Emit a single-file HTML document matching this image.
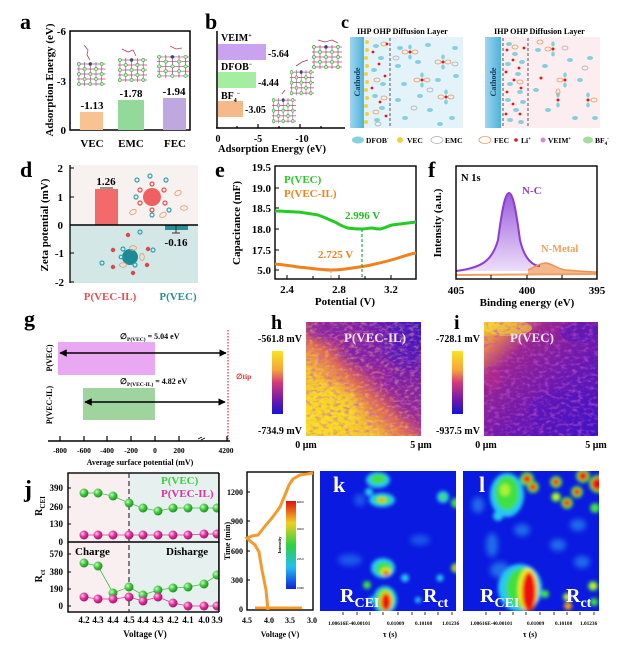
<!DOCTYPE html>
<html><head><meta charset="utf-8"><style>
html,body{margin:0;padding:0;background:#fff;}
svg{display:block;}
text{font-family:"Liberation Serif",serif;font-weight:bold;}
</style></head><body>
<svg width="639" height="661" viewBox="0 0 639 661" xmlns="http://www.w3.org/2000/svg">
<defs>
 <g id="lat">
  <g stroke="#c0406a" stroke-width="0.7">
   <line x1="0" y1="2" x2="30" y2="2"/><line x1="0" y1="7" x2="30" y2="7"/><line x1="0" y1="12" x2="30" y2="12"/><line x1="0" y1="17" x2="30" y2="17"/><line x1="0" y1="22" x2="30" y2="22"/>
  </g>
  <g stroke="#7a5a9a" stroke-width="0.7">
   <line x1="2" y1="0" x2="2" y2="24"/><line x1="8" y1="0" x2="8" y2="24"/><line x1="14" y1="0" x2="14" y2="24"/><line x1="20" y1="0" x2="20" y2="24"/><line x1="26" y1="0" x2="26" y2="24"/>
  </g>
  <g fill="#c8eec0" stroke="#3aa040" stroke-width="0.6">
   <circle cx="2" cy="2" r="1.6"/><circle cx="14" cy="2" r="1.6"/><circle cx="26" cy="2" r="1.6"/>
   <circle cx="8" cy="7" r="1.6"/><circle cx="20" cy="7" r="1.6"/>
   <circle cx="2" cy="12" r="1.6"/><circle cx="14" cy="12" r="1.6"/><circle cx="26" cy="12" r="1.6"/>
   <circle cx="8" cy="17" r="1.6"/><circle cx="20" cy="17" r="1.6"/>
   <circle cx="2" cy="22" r="1.6"/><circle cx="14" cy="22" r="1.6"/><circle cx="26" cy="22" r="1.6"/>
  </g>
  <circle cx="14" cy="2" r="1.5" fill="#5030a0"/>
 </g>
 <linearGradient id="cath" x1="0" x2="1" y1="0" y2="0"><stop offset="0" stop-color="#9fd6ee"/><stop offset="1" stop-color="#4fb2dc"/></linearGradient>
 <linearGradient id="purp" x1="0" x2="0" y1="0" y2="1"><stop offset="0" stop-color="#8a3ed6"/><stop offset="1" stop-color="#ead8f8"/></linearGradient>
 <linearGradient id="cbar" x1="0" x2="0" y1="0" y2="1"><stop offset="0" stop-color="#f6e51e"/><stop offset="0.3" stop-color="#f6a43a"/><stop offset="0.5" stop-color="#d23a78"/><stop offset="0.75" stop-color="#7a1aa6"/><stop offset="1" stop-color="#1414d0"/></linearGradient>
 <linearGradient id="rbow" x1="0" x2="0" y1="0" y2="1"><stop offset="0" stop-color="#e01010"/><stop offset="0.25" stop-color="#f0d020"/><stop offset="0.5" stop-color="#30d040"/><stop offset="0.75" stop-color="#20c0f0"/><stop offset="1" stop-color="#1020d8"/></linearGradient>
 <linearGradient id="hgrad" x1="0" y1="1" x2="1" y2="0"><stop offset="0" stop-color="#f8e020"/><stop offset="0.3" stop-color="#f6c030"/><stop offset="0.45" stop-color="#e06a50"/><stop offset="0.56" stop-color="#a02890"/><stop offset="0.8" stop-color="#6a1ab0"/><stop offset="1" stop-color="#3010c0"/></linearGradient>
 <linearGradient id="igrad" x1="0" y1="0" x2="1" y2="1"><stop offset="0" stop-color="#f8d830"/><stop offset="0.14" stop-color="#e07850"/><stop offset="0.28" stop-color="#9a2490"/><stop offset="0.6" stop-color="#6a18b2"/><stop offset="1" stop-color="#3a12c8"/></linearGradient>
 <filter id="npurp" x="0" y="0" width="100%" height="100%">
  <feTurbulence type="fractalNoise" baseFrequency="0.18 0.3" numOctaves="2" seed="4"/>
  <feColorMatrix type="matrix" values="0 0 0 0 0.5  0 0 0 0 0.08  0 0 0 0 0.6  2.0 0 0 0 -0.95"/>
 </filter>
 <filter id="nyel" x="0" y="0" width="100%" height="100%">
  <feTurbulence type="fractalNoise" baseFrequency="0.2 0.35" numOctaves="2" seed="9"/>
  <feColorMatrix type="matrix" values="0 0 0 0 0.98  0 0 0 0 0.8  0 0 0 0 0.2  2.2 0 0 0 -1.05"/>
 </filter>
 <filter id="blur"><feGaussianBlur stdDeviation="1.8"/></filter>
 <filter id="blur2"><feGaussianBlur stdDeviation="3"/></filter>
 <filter id="blur3"><feGaussianBlur stdDeviation="5"/></filter>
 <radialGradient id="gball" cx="0.35" cy="0.35" r="0.7"><stop offset="0" stop-color="#c8f8c0"/><stop offset="0.5" stop-color="#40c840"/><stop offset="1" stop-color="#1a8a1a"/></radialGradient>
 <radialGradient id="pball" cx="0.35" cy="0.35" r="0.7"><stop offset="0" stop-color="#ffc8e8"/><stop offset="0.5" stop-color="#e0309a"/><stop offset="1" stop-color="#a01068"/></radialGradient>
 <marker id="ar" viewBox="0 0 10 10" refX="9" refY="5" markerWidth="5" markerHeight="5" orient="auto-start-reverse"><path d="M0,0 L10,5 L0,10 z" fill="#000"/></marker>
</defs>

<!-- ===== a ===== -->
<text x="20" y="29" font-size="22">a</text>
<text transform="translate(53,80) rotate(-90)" font-size="11" text-anchor="middle">Adsorption Energy (eV)</text>
<g font-size="11" text-anchor="end"><text x="66" y="35">-6</text><text x="66" y="85">-3</text><text x="66" y="134">0</text></g>
<rect x="70" y="31" width="120" height="99" fill="none" stroke="#000" stroke-width="1.5"/>
<rect x="80" y="112" width="23" height="18" fill="#f9c292"/>
<rect x="118" y="100" width="26" height="30" fill="#93d99a"/>
<rect x="163" y="98" width="23" height="32" fill="#bfa7df"/>
<g font-size="11" text-anchor="middle"><text x="92" y="109">-1.13</text><text x="131" y="97">-1.78</text><text x="174" y="95">-1.94</text></g>
<use href="#lat" transform="translate(77,62) scale(0.95,1)"/>
<use href="#lat" transform="translate(118,58) scale(0.97,1)"/>
<use href="#lat" transform="translate(157,55) scale(1.1,0.95)"/>
<g stroke="#b04060" stroke-width="0.8" fill="none"><path d="M84,45 L88,50 L87,55 L90,60"/><path d="M122,49 L128,52 L133,50 L136,56"/><path d="M170,46 L176,49 L182,48"/></g>
<g font-size="11" text-anchor="middle"><text x="92" y="147">VEC</text><text x="131" y="147">EMC</text><text x="175" y="147">FEC</text></g>

<!-- ===== b ===== -->
<text x="205" y="29" font-size="22">b</text>
<line x1="217" y1="31" x2="217" y2="128" stroke="#000" stroke-width="1.5"/>
<line x1="216" y1="128" x2="345" y2="128" stroke="#000" stroke-width="1.5"/>
<g stroke="#000" stroke-width="1.2"><line x1="258" y1="128" x2="258" y2="124"/><line x1="300" y1="128" x2="300" y2="124"/><line x1="237" y1="128" x2="237" y2="126"/><line x1="279" y1="128" x2="279" y2="126"/><line x1="321" y1="128" x2="321" y2="126"/></g>
<rect x="218" y="44" width="48" height="16" fill="#c9a3f0"/>
<rect x="218" y="72" width="38" height="16" fill="#a6ee9f"/>
<rect x="218" y="101" width="25" height="16" fill="#f5b98a"/>
<g font-size="10"><text x="221" y="41">VEIM<tspan dy="-4" font-size="6">+</tspan></text><text x="221" y="70">DFOB<tspan dy="-4" font-size="6">−</tspan></text><text x="221" y="99">BF<tspan dy="3" font-size="6">4</tspan><tspan dy="-7" font-size="6">−</tspan></text></g>
<g font-size="10"><text x="268" y="57">-5.64</text><text x="258" y="86">-4.44</text><text x="245" y="113">-3.05</text></g>
<use href="#lat" transform="translate(312,45)"/>
<use href="#lat" transform="translate(290,70) scale(0.8,1.05)"/>
<use href="#lat" transform="translate(272,98) scale(0.8,1.05)"/>
<g stroke="#a04060" stroke-width="0.8" fill="none"><path d="M318,40 L325,42 L332,40 L338,43"/><path d="M296,66 L302,62 L308,60"/><path d="M282,94 L285,90"/></g>
<g font-size="10" text-anchor="middle"><text x="218" y="142">0</text><text x="258" y="142">-5</text><text x="302" y="142">-10</text></g>
<text x="272" y="152" font-size="10.5" text-anchor="middle">Adsorption Energy (eV)</text>

<!-- ===== c ===== -->
<text x="341" y="28" font-size="18">c</text>
<g font-size="8.2"><text x="357" y="34">IHP OHP Diffusion Layer</text><text x="494" y="34">IHP OHP Diffusion Layer</text></g>
<rect x="350" y="37" width="113" height="91" fill="#e4f3fa"/>
<rect x="350" y="37" width="14" height="91" fill="url(#cath)"/>
<text transform="translate(360,82) rotate(-90)" font-size="8" text-anchor="middle" fill="#1a3a5a">Cathode</text>
<rect x="485" y="37" width="115" height="91" fill="#fcedf0"/>
<rect x="485" y="37" width="16" height="91" fill="url(#cath)"/>
<text transform="translate(496,82) rotate(-90)" font-size="8" text-anchor="middle" fill="#1a3a5a">Cathode</text>
<g fill="#f2d040"><circle cx="367" cy="42" r="2"/><circle cx="367" cy="50" r="2"/><circle cx="366" cy="58" r="2"/><circle cx="367" cy="66" r="2"/><circle cx="366" cy="74" r="2"/><circle cx="367" cy="82" r="2"/><circle cx="366" cy="90" r="2"/><circle cx="367" cy="98" r="2"/><circle cx="366" cy="106" r="2"/><circle cx="367" cy="114" r="2"/><circle cx="366" cy="122" r="2"/></g>
<g stroke="#555" stroke-width="1" stroke-dasharray="3,2"><line x1="390" y1="38" x2="390" y2="128"/><line x1="503" y1="38" x2="503" y2="128"/><line x1="528" y1="38" x2="528" y2="128"/></g>
<g fill="#86d0dc">
 <ellipse cx="376" cy="46" rx="3" ry="2"/><ellipse cx="381" cy="58" rx="3" ry="2"/><ellipse cx="374" cy="70" rx="3" ry="2"/><ellipse cx="383" cy="84" rx="3" ry="2"/><ellipse cx="375" cy="96" rx="3" ry="2"/><ellipse cx="382" cy="108" rx="3" ry="2"/><ellipse cx="377" cy="120" rx="3" ry="2"/>
 <ellipse cx="400" cy="48" rx="3" ry="2"/><ellipse cx="428" cy="45" rx="3" ry="2"/><ellipse cx="455" cy="48" rx="3" ry="2"/><ellipse cx="398" cy="66" rx="3" ry="2"/><ellipse cx="418" cy="62" rx="3" ry="2"/><ellipse cx="404" cy="84" rx="3" ry="2"/><ellipse cx="438" cy="80" rx="3" ry="2"/><ellipse cx="456" cy="76" rx="3" ry="2"/><ellipse cx="398" cy="100" rx="3" ry="2"/><ellipse cx="420" cy="96" rx="3" ry="2"/><ellipse cx="430" cy="110" rx="3" ry="2"/><ellipse cx="405" cy="118" rx="3" ry="2"/><ellipse cx="452" cy="118" rx="3" ry="2"/><ellipse cx="440" cy="124" rx="3" ry="2"/>
 <ellipse cx="410" cy="47" rx="1.8" ry="2.5"/><ellipse cx="410" cy="57" rx="1.8" ry="2.5"/><ellipse cx="443" cy="57" rx="1.8" ry="2.5"/><ellipse cx="443" cy="67" rx="1.8" ry="2.5"/><ellipse cx="422" cy="75" rx="1.8" ry="2.5"/><ellipse cx="422" cy="85" rx="1.8" ry="2.5"/><ellipse cx="446" cy="92" rx="1.8" ry="2.5"/><ellipse cx="446" cy="102" rx="1.8" ry="2.5"/>
 <ellipse cx="509" cy="44" rx="3" ry="2"/><ellipse cx="515" cy="54" rx="3" ry="2"/><ellipse cx="508" cy="64" rx="3" ry="2"/><ellipse cx="518" cy="74" rx="3" ry="2"/><ellipse cx="510" cy="84" rx="3" ry="2"/><ellipse cx="520" cy="92" rx="3" ry="2"/><ellipse cx="508" cy="100" rx="3" ry="2"/><ellipse cx="516" cy="110" rx="3" ry="2"/><ellipse cx="510" cy="120" rx="3" ry="2"/><ellipse cx="522" cy="62" rx="3" ry="2"/><ellipse cx="523" cy="102" rx="3" ry="2"/><ellipse cx="521" cy="122" rx="3" ry="2"/>
 <ellipse cx="538" cy="50" rx="3" ry="2"/><ellipse cx="545" cy="66" rx="3" ry="2"/><ellipse cx="570" cy="60" rx="3" ry="2"/><ellipse cx="536" cy="90" rx="3" ry="2"/><ellipse cx="580" cy="80" rx="3" ry="2"/><ellipse cx="548" cy="110" rx="3" ry="2"/><ellipse cx="575" cy="118" rx="3" ry="2"/><ellipse cx="590" cy="58" rx="3" ry="2"/><ellipse cx="595" cy="118" rx="3" ry="2"/>
 <ellipse cx="553" cy="44" rx="1.8" ry="2.5"/><ellipse cx="553" cy="54" rx="1.8" ry="2.5"/><ellipse cx="565" cy="75" rx="1.8" ry="2.5"/><ellipse cx="565" cy="85" rx="1.8" ry="2.5"/><ellipse cx="588" cy="95" rx="1.8" ry="2.5"/><ellipse cx="588" cy="105" rx="1.8" ry="2.5"/><ellipse cx="558" cy="95" rx="1.8" ry="2.5"/><ellipse cx="558" cy="105" rx="1.8" ry="2.5"/>
</g>
<g fill="none" stroke="#e89a60" stroke-width="0.8">
 <ellipse cx="384" cy="44" rx="3" ry="2"/><ellipse cx="377" cy="80" rx="3" ry="2"/><ellipse cx="384" cy="98" rx="3" ry="2"/><ellipse cx="376" cy="112" rx="3" ry="2"/>
 <ellipse cx="405" cy="52" rx="3" ry="2"/><ellipse cx="415" cy="52" rx="3" ry="2"/><ellipse cx="438" cy="62" rx="3" ry="2"/><ellipse cx="448" cy="62" rx="3" ry="2"/><ellipse cx="417" cy="80" rx="3" ry="2"/><ellipse cx="427" cy="80" rx="3" ry="2"/><ellipse cx="441" cy="97" rx="3" ry="2"/><ellipse cx="451" cy="97" rx="3" ry="2"/>
 <ellipse cx="548" cy="49" rx="3" ry="2"/><ellipse cx="560" cy="80" rx="3" ry="2"/><ellipse cx="558" cy="92" rx="2" ry="3"/><ellipse cx="594" cy="100" rx="3" ry="2"/><ellipse cx="540" cy="42" rx="3" ry="2"/><ellipse cx="515" cy="47" rx="3" ry="2"/><ellipse cx="520" cy="82" rx="3" ry="2"/>
</g>
<g fill="none" stroke="#aaa" stroke-width="0.7"><ellipse cx="396" cy="58" rx="3" ry="2"/><ellipse cx="430" cy="90" rx="3" ry="2"/><ellipse cx="414" cy="108" rx="3" ry="2"/><ellipse cx="378" cy="124" rx="3" ry="2"/><ellipse cx="455" cy="64" rx="3" ry="2"/><ellipse cx="565" cy="48" rx="3" ry="2"/><ellipse cx="585" cy="68" rx="3" ry="2"/></g>
<g fill="#e01818">
 <circle cx="373" cy="52" r="1.4"/><circle cx="379" cy="64" r="1.4"/><circle cx="385" cy="76" r="1.4"/><circle cx="372" cy="88" r="1.4"/><circle cx="380" cy="102" r="1.4"/><circle cx="386" cy="116" r="1.4"/><circle cx="387" cy="44" r="1.4"/>
 <circle cx="410" cy="52" r="1.5"/><circle cx="443" cy="62" r="1.5"/><circle cx="422" cy="80" r="1.5"/><circle cx="446" cy="97" r="1.5"/>
 <circle cx="507" cy="50" r="1.4"/><circle cx="513" cy="60" r="1.4"/><circle cx="506" cy="72" r="1.4"/><circle cx="514" cy="80" r="1.4"/><circle cx="507" cy="92" r="1.4"/><circle cx="513" cy="104" r="1.4"/><circle cx="506" cy="114" r="1.4"/><circle cx="519" cy="68" r="1.4"/><circle cx="521" cy="88" r="1.4"/><circle cx="520" cy="114" r="1.4"/><circle cx="524" cy="48" r="1.4"/>
 <circle cx="553" cy="49" r="1.5"/><circle cx="565" cy="80" r="1.5"/><circle cx="588" cy="100" r="1.5"/><circle cx="558" cy="100" r="1.5"/><circle cx="541" cy="78" r="1.5"/>
</g>
<g font-size="7.5">
 <ellipse cx="358" cy="140" rx="6" ry="3.5" fill="#86d0dc"/><text x="366" y="143">DFOB<tspan dy="-3" font-size="5">-</tspan></text>
 <circle cx="400" cy="140" r="3" fill="#f2d040"/><text x="407" y="143">VEC</text>
 <ellipse cx="437" cy="140" rx="6" ry="3.5" fill="#fff" stroke="#aaa" stroke-width="0.7"/><text x="445" y="143">EMC</text>
 <ellipse cx="485" cy="140" rx="6" ry="3.5" fill="#fff" stroke="#e89a60" stroke-width="0.8"/><text x="494" y="143">FEC</text>
 <circle cx="516" cy="140" r="1.8" fill="#e01818"/><text x="521" y="143">Li<tspan dy="-3" font-size="5">+</tspan></text>
 <circle cx="543" cy="140" r="2.5" fill="#c890c8"/><text x="548" y="143">VEIM<tspan dy="-3" font-size="5">+</tspan></text>
 <ellipse cx="588" cy="140" rx="5" ry="3.5" fill="#a6dca0"/><text x="595" y="143">BF<tspan dy="2" font-size="5">4</tspan><tspan dy="-5" font-size="5">-</tspan></text>
</g>

<!-- ===== d ===== -->
<text x="20" y="177" font-size="22">d</text>
<text transform="translate(48,225) rotate(-90)" font-size="11" text-anchor="middle">Zeta potential (mV)</text>
<rect x="70" y="165" width="128" height="60" fill="#f7f1ef"/>
<rect x="70" y="225" width="128" height="58" fill="#d3e7e7"/>
<line x1="70" y1="165" x2="70" y2="283" stroke="#000" stroke-width="1.3"/>
<g stroke="#000" stroke-width="1"><line x1="70" y1="168" x2="74" y2="168"/><line x1="70" y1="197" x2="74" y2="197"/><line x1="70" y1="253" x2="74" y2="253"/><line x1="70" y1="282" x2="74" y2="282"/></g>
<g font-size="11" text-anchor="end"><text x="63" y="172">2</text><text x="63" y="201">1</text><text x="63" y="229">0</text><text x="64" y="257">-1</text><text x="64" y="286">-2</text></g>
<rect x="95" y="189" width="23" height="36" fill="#f26a6a"/>
<line x1="100" y1="188" x2="113" y2="188" stroke="#333" stroke-width="1"/>
<rect x="165" y="225" width="23" height="5" fill="#2a8f97"/>
<g stroke="#333" stroke-width="1"><line x1="176" y1="225" x2="176" y2="233"/><line x1="172" y1="233" x2="180" y2="233"/></g>
<line x1="70" y1="225" x2="198" y2="225" stroke="#000" stroke-width="1.6"/>
<g font-size="11" text-anchor="middle"><text x="106" y="185">1.26</text><text x="176" y="246">-0.16</text></g>
<g fill="none" stroke-width="1.2">
 <circle cx="152" cy="197" r="9" fill="#f06060" stroke="none"/>
 <g stroke="#e05050"><circle cx="152" cy="184" r="2"/><circle cx="164" cy="190" r="2"/><circle cx="165" cy="203" r="2"/><circle cx="152" cy="210" r="2"/><circle cx="140" cy="203" r="2"/><circle cx="140" cy="190" r="2"/></g>
 <g stroke="#30a0b0"><circle cx="137" cy="180" r="2"/><circle cx="150" cy="176" r="2"/><circle cx="166" cy="180" r="2"/><circle cx="136" cy="197" r="2"/><circle cx="169" cy="210" r="2"/><circle cx="152" cy="215" r="2"/></g>
 <g stroke="#e8a070" stroke-width="0.9"><ellipse cx="178" cy="193" rx="3.5" ry="2.3" transform="rotate(-30 178 193)"/><ellipse cx="133" cy="212" rx="3.5" ry="2.3" transform="rotate(-30 133 212)"/><ellipse cx="163" cy="215" rx="3.5" ry="2.3" transform="rotate(-30 163 215)"/><ellipse cx="184" cy="208" rx="3.5" ry="2.3"/></g>
</g>
<g fill="none" stroke-width="1.2">
 <circle cx="130" cy="257" r="8" fill="#1e8a96" stroke="none"/>
 <g stroke="#30a0b0"><circle cx="123" cy="249" r="2"/><circle cx="140" cy="232" r="2"/><circle cx="153" cy="250" r="2"/><circle cx="102" cy="263" r="2"/><circle cx="135" cy="265" r="2"/><circle cx="121" cy="257" r="1.8"/></g>
 <g fill="#d84a4a" stroke="none"><circle cx="113" cy="250" r="2.2"/><circle cx="128" cy="235" r="2.2"/><circle cx="148" cy="249" r="2.2"/><circle cx="113" cy="267" r="2.2"/><circle cx="147" cy="265" r="2.2"/><circle cx="133" cy="273" r="2.2"/></g>
 <g stroke="#e8a070" stroke-width="0.9"><ellipse cx="142" cy="257" rx="2.3" ry="3.5"/><ellipse cx="123" cy="265" rx="3.5" ry="2.3"/><ellipse cx="133" cy="248" rx="3.5" ry="2.3"/></g>
</g>
<g font-size="11" text-anchor="middle"><text x="110" y="300" fill="#e85050">P(VEC-IL)</text><text x="178" y="300" fill="#2a8f97">P(VEC)</text></g>

<!-- ===== e ===== -->
<text x="215" y="177" font-size="22">e</text>
<text transform="translate(240,223) rotate(-90)" font-size="11" text-anchor="middle">Capacitance (mF)</text>
<rect x="275" y="166" width="141" height="113" fill="none" stroke="#000" stroke-width="1.4"/>
<g stroke="#000" stroke-width="1"><line x1="275" y1="188" x2="279" y2="188"/><line x1="275" y1="208" x2="279" y2="208"/><line x1="275" y1="229" x2="279" y2="229"/><line x1="275" y1="250" x2="279" y2="250"/><line x1="275" y1="270" x2="279" y2="270"/>
<line x1="287" y1="279" x2="287" y2="275"/><line x1="313" y1="279" x2="313" y2="276"/><line x1="339" y1="279" x2="339" y2="275"/><line x1="365" y1="279" x2="365" y2="276"/><line x1="391" y1="279" x2="391" y2="275"/></g>
<g font-size="11" text-anchor="end"><text x="271" y="171">19.5</text><text x="271" y="192">19.0</text><text x="271" y="212">18.5</text><text x="271" y="233">18.0</text><text x="271" y="254">17.5</text><text x="271" y="274">5.0</text></g>
<g font-size="11" text-anchor="middle"><text x="287" y="293">2.4</text><text x="339" y="293">2.8</text><text x="391" y="293">3.2</text></g>
<text x="345" y="305" font-size="11" text-anchor="middle">Potential (V)</text>
<path d="M275,211 C285,211 292,212 298,212 C306,213 312,214 318,215 C326,218 330,220 335,222 C340,225 344,227 348,228 C354,229 358,229 362,229 C366,229 369,228 372,228 C376,229 378,229 380,229 C385,228 388,226 392,225 C400,224 408,223 416,222" fill="none" stroke="#22cc22" stroke-width="3"/>
<path d="M275,264 C285,265 292,266 298,267 C310,268 322,270 332,270 C340,270 346,269 352,268 C360,267 368,266 375,264 C384,262 392,260 398,258 C404,256 410,254 416,253" fill="none" stroke="#f0821e" stroke-width="3"/>
<line x1="362" y1="229" x2="362" y2="279" stroke="#22aa44" stroke-width="1.2" stroke-dasharray="3,2"/>
<line x1="331" y1="270" x2="331" y2="279" stroke="#e8a070" stroke-width="1.2" stroke-dasharray="3,2"/>
<g font-size="11"><text x="284" y="183" fill="#22cc22">P(VEC)</text><text x="284" y="197" fill="#f0821e">P(VEC-IL)</text><text x="345" y="219" fill="#22bb22">2.996 V</text><text x="318" y="258" fill="#f0821e">2.725 V</text></g>

<!-- ===== f ===== -->
<text x="428" y="177" font-size="22">f</text>
<text transform="translate(441,223) rotate(-90)" font-size="11" text-anchor="middle">Intensity (a.u.)</text>
<path d="M456,271 C480,268 492,262 498,240 C502,210 505,193 509,193 C513,193 516,210 520,240 C525,262 535,266 540,266 L540,271 Z" fill="url(#purp)" opacity="0.85"/>
<path d="M528,270 C535,268 538,264 545,263 C552,263 555,268 565,270 C580,271 590,272 597,272 L597,274 L528,274 Z" fill="#f2b080" opacity="0.9"/>
<path d="M456,275 L597,274" stroke="#f2a060" stroke-width="2" fill="none"/>
<path d="M456,271 C480,268 492,262 498,240 C502,210 505,193 509,193 C513,193 516,210 520,240 C525,262 535,266 540,266" fill="none" stroke="#8a3ed6" stroke-width="2"/>
<path d="M528,270 C535,267 538,264 545,263 C552,263 555,268 565,270 C580,271 590,272 597,272" fill="none" stroke="#f09050" stroke-width="1.5"/>
<rect x="456" y="166" width="141" height="113" fill="none" stroke="#000" stroke-width="1.4"/>
<g stroke="#000" stroke-width="1"><line x1="491" y1="279" x2="491" y2="275"/><line x1="527" y1="279" x2="527" y2="275"/><line x1="562" y1="279" x2="562" y2="275"/></g>
<text x="461" y="181" font-size="10.5">N 1s</text>
<text x="522" y="194" font-size="11" fill="#9040d0">N-C</text>
<text x="541" y="252" font-size="10.5" fill="#f0a060">N-Metal</text>
<g font-size="11" text-anchor="middle"><text x="456" y="294">405</text><text x="527" y="294">400</text><text x="597" y="294">395</text></g>
<text x="527" y="306" font-size="11" text-anchor="middle">Binding energy (eV)</text>

<!-- ===== g ===== -->
<text x="24" y="326" font-size="22">g</text>
<rect x="58" y="342" width="97" height="33" fill="#e8a9f2"/>
<rect x="83" y="388" width="72" height="32" fill="#9fd49f"/>
<line x1="60" y1="353" x2="226" y2="353" stroke="#000" stroke-width="1.5" marker-start="url(#ar)" marker-end="url(#ar)"/>
<line x1="85" y1="402" x2="225" y2="402" stroke="#000" stroke-width="1.5" marker-start="url(#ar)" marker-end="url(#ar)"/>
<line x1="228" y1="330" x2="228" y2="441" stroke="#e03030" stroke-width="1.2" stroke-dasharray="1.5,1.5"/>
<text x="236" y="379" font-size="7.5" fill="#e03030">∅tip</text>
<text x="120" y="339" font-size="8">∅<tspan dy="2" font-size="5.5">P(VEC)</tspan><tspan dy="-2"> = 5.04 eV</tspan></text>
<text x="120" y="384" font-size="8">∅<tspan dy="2" font-size="5.5">P(VEC-IL)</tspan><tspan dy="-2"> = 4.82 eV</tspan></text>
<text transform="translate(52,358) rotate(-90)" font-size="8" text-anchor="middle">P(VEC)</text>
<text transform="translate(52,405) rotate(-90)" font-size="8" text-anchor="middle">P(VEC-IL)</text>
<line x1="48" y1="441" x2="230" y2="441" stroke="#000" stroke-width="1.5"/>
<g stroke="#000" stroke-width="1.2"><line x1="60" y1="441" x2="60" y2="436"/><line x1="84" y1="441" x2="84" y2="436"/><line x1="107" y1="441" x2="107" y2="436"/><line x1="131" y1="441" x2="131" y2="436"/><line x1="155" y1="441" x2="155" y2="436"/><line x1="179" y1="441" x2="179" y2="436"/><line x1="227" y1="441" x2="227" y2="436"/></g>
<path d="M198,439 L202,437 M201,440 L205,438" stroke="#000" stroke-width="0.8"/>
<g font-size="7.5" text-anchor="middle"><text x="60" y="453">-800</text><text x="84" y="453">-600</text><text x="107" y="453">-400</text><text x="131" y="453">-200</text><text x="155" y="453">0</text><text x="179" y="453">200</text><text x="226" y="453">4200</text></g>
<text x="140" y="465" font-size="8" text-anchor="middle">Average surface potential (mV)</text>

<!-- ===== h ===== -->
<text x="271" y="329" font-size="20">h</text>
<text x="280" y="342" font-size="10" text-anchor="middle">-561.8 mV</text>
<rect x="272" y="351" width="11" height="63" fill="url(#cbar)"/>
<text x="280" y="434" font-size="10" text-anchor="middle">-734.9 mV</text>
<svg x="306" y="322" width="115" height="114" viewBox="306 322 115 114" overflow="hidden">
<rect x="306" y="322" width="115" height="114" fill="url(#hgrad)"/>
<g filter="url(#blur3)">
<ellipse cx="326" cy="330" rx="24" ry="10" fill="#7a1eaa" opacity="0.7"/>
<ellipse cx="370" cy="352" rx="30" ry="14" fill="#7a1eaa" opacity="0.65"/>
<ellipse cx="405" cy="345" rx="22" ry="22" fill="#4a14c0" opacity="0.6"/>
<ellipse cx="395" cy="380" rx="10" ry="8" fill="#6a18b0" opacity="0.6"/>
<ellipse cx="410" cy="400" rx="14" ry="16" fill="#8020a0" opacity="0.45"/>
<ellipse cx="330" cy="410" rx="30" ry="24" fill="#f8e020" opacity="0.6"/>
</g>
<rect x="306" y="322" width="115" height="114" filter="url(#npurp)" opacity="0.85"/>
<rect x="306" y="322" width="115" height="114" filter="url(#nyel)" opacity="0.5"/>
</svg>
<text x="375" y="342" font-size="13" fill="#f4e8f4" text-anchor="middle">P(VEC-IL)</text>
<g font-size="10" text-anchor="middle"><text x="306" y="448">0 μm</text><text x="421" y="448">5 μm</text></g>

<!-- ===== i ===== -->
<text x="454" y="329" font-size="20">i</text>
<text x="458" y="342" font-size="10" text-anchor="middle">-728.1 mV</text>
<rect x="452" y="351" width="11" height="63" fill="url(#cbar)"/>
<text x="458" y="434" font-size="10" text-anchor="middle">-937.5 mV</text>
<svg x="484" y="322" width="114" height="114" viewBox="484 322 114 114" overflow="hidden">
<rect x="484" y="322" width="114" height="114" fill="url(#igrad)"/>
<ellipse cx="508" cy="328" rx="24" ry="8" fill="#f8e030" opacity="0.6"/>
<ellipse cx="492" cy="378" rx="9" ry="12" fill="#b02a88" opacity="0.6"/>
<ellipse cx="580" cy="332" rx="20" ry="10" fill="#4a14c0" opacity="0.5"/>
<ellipse cx="560" cy="410" rx="30" ry="20" fill="#5014c0" opacity="0.4"/>
<rect x="484" y="322" width="114" height="114" filter="url(#npurp)"/>
</svg>
<text x="532" y="342" font-size="13" fill="#f4e8f4" text-anchor="middle">P(VEC)</text>
<g font-size="10" text-anchor="middle"><text x="486" y="448">0 μm</text><text x="596" y="448">5 μm</text></g>

<!-- ===== j ===== -->
<text x="24" y="497" font-size="24">j</text>
<rect x="68" y="473" width="61" height="139" fill="#f9eef0"/>
<rect x="129" y="473" width="90" height="139" fill="#e6f1ef"/>
<rect x="68" y="473" width="151" height="139" fill="none" stroke="#000" stroke-width="1.4"/>
<line x1="68" y1="542" x2="219" y2="542" stroke="#000" stroke-width="1.4"/>
<line x1="129" y1="473" x2="129" y2="612" stroke="#333" stroke-width="1.2" stroke-dasharray="5,3"/>
<g font-size="9" text-anchor="end"><text x="63" y="491">390</text><text x="63" y="510">260</text><text x="63" y="527">130</text><text x="63" y="545">0</text><text x="63" y="557">570</text><text x="63" y="575">380</text><text x="63" y="592">190</text><text x="63" y="609">0</text></g>
<g stroke="#000" stroke-width="1"><line x1="68" y1="488" x2="71" y2="488"/><line x1="68" y1="507" x2="71" y2="507"/><line x1="68" y1="524" x2="71" y2="524"/><line x1="68" y1="554" x2="71" y2="554"/><line x1="68" y1="572" x2="71" y2="572"/><line x1="68" y1="589" x2="71" y2="589"/><line x1="68" y1="606" x2="71" y2="606"/></g>
<text transform="translate(42,506) rotate(-90)" font-size="10" text-anchor="middle">R<tspan dy="3" font-size="7">CEI</tspan></text>
<text transform="translate(42,576) rotate(-90)" font-size="10" text-anchor="middle">R<tspan dy="3" font-size="7">ct</tspan></text>
<g fill="none" stroke-width="0.8">
<polyline stroke="#40c040" points="84,493 98,493 113,496 129,503 143,508 158,511 173,508 188,508 204,508 217,508"/>
<polyline stroke="#e0309a" points="84,535 98,535 113,535 129,535 143,535 158,535 173,535 188,535 204,534 217,534"/>
<polyline stroke="#40c040" points="84,563 98,566 113,593 129,587 143,595 158,590 173,588 188,587 204,584 217,575"/>
<polyline stroke="#e0309a" points="84,597 98,599 113,599 129,597 143,601 158,597 173,603 188,606 204,606 217,606"/>
</g>
<g fill="url(#gball)"><circle cx="84" cy="493" r="4.5"/><circle cx="98" cy="493" r="4.5"/><circle cx="113" cy="496" r="4.5"/><circle cx="129" cy="503" r="4.5"/><circle cx="143" cy="508" r="4.5"/><circle cx="158" cy="511" r="4.5"/><circle cx="173" cy="508" r="4.5"/><circle cx="188" cy="508" r="4.5"/><circle cx="204" cy="508" r="4.5"/><circle cx="217" cy="508" r="4.5"/>
<circle cx="84" cy="563" r="4.5"/><circle cx="98" cy="566" r="4.5"/><circle cx="113" cy="593" r="4.5"/><circle cx="129" cy="587" r="4.5"/><circle cx="143" cy="595" r="4.5"/><circle cx="158" cy="590" r="4.5"/><circle cx="173" cy="588" r="4.5"/><circle cx="188" cy="587" r="4.5"/><circle cx="204" cy="584" r="4.5"/><circle cx="217" cy="575" r="4.5"/></g>
<g fill="url(#pball)"><circle cx="84" cy="535" r="4.5"/><circle cx="98" cy="535" r="4.5"/><circle cx="113" cy="535" r="4.5"/><circle cx="129" cy="535" r="4.5"/><circle cx="143" cy="535" r="4.5"/><circle cx="158" cy="535" r="4.5"/><circle cx="173" cy="535" r="4.5"/><circle cx="188" cy="535" r="4.5"/><circle cx="204" cy="534" r="4.5"/><circle cx="217" cy="534" r="4.5"/>
<circle cx="84" cy="597" r="4.5"/><circle cx="98" cy="599" r="4.5"/><circle cx="113" cy="599" r="4.5"/><circle cx="129" cy="597" r="4.5"/><circle cx="143" cy="601" r="4.5"/><circle cx="158" cy="597" r="4.5"/><circle cx="173" cy="603" r="4.5"/><circle cx="188" cy="606" r="4.5"/><circle cx="204" cy="606" r="4.5"/><circle cx="217" cy="606" r="4.5"/></g>
<rect x="219" y="470" width="8" height="145" fill="#fff"/>
<line x1="219" y1="473" x2="219" y2="612" stroke="#000" stroke-width="1.4"/>
<g font-size="11"><text x="161" y="484" fill="#40cc40">P(VEC)</text><text x="161" y="497" fill="#e0309a">P(VEC-IL)</text></g>
<g font-size="11"><text x="75" y="555">Charge</text><text x="166" y="555">Disharge</text></g>
<g font-size="9" text-anchor="middle"><text x="84" y="623">4.2</text><text x="98" y="623">4.3</text><text x="113" y="623">4.4</text><text x="129" y="623">4.5</text><text x="143" y="623">4.4</text><text x="158" y="623">4.3</text><text x="173" y="623">4.2</text><text x="188" y="623">4.1</text><text x="204" y="623">4.0</text><text x="217" y="623">3.9</text></g>
<text x="145" y="637" font-size="9" text-anchor="middle">Voltage (V)</text>

<!-- middle time plot -->
<rect x="247" y="472" width="66" height="138" fill="#fff" stroke="#000" stroke-width="1.4"/>
<g font-size="8" text-anchor="end"><text x="243" y="495">1200</text><text x="243" y="524">900</text><text x="243" y="554">600</text><text x="243" y="583">300</text><text x="243" y="612">0</text></g>
<g stroke="#000" stroke-width="1"><line x1="247" y1="492" x2="250" y2="492"/><line x1="247" y1="521" x2="250" y2="521"/><line x1="247" y1="551" x2="250" y2="551"/><line x1="247" y1="580" x2="250" y2="580"/></g>
<text transform="translate(230,541) rotate(-90)" font-size="8" text-anchor="middle">Time (min)</text>
<path d="M268,610 L266,590 L262,570 L259,552 L255,545 L249,540 L247,538 L252,536 L258,535 L262,530 L266,525 L272,518 L280,507 L285,495 L289,485 L293,479 L300,475 L313,473" fill="none" stroke="#f39a2e" stroke-width="3"/>
<line x1="255" y1="608" x2="302" y2="608" stroke="#f39a2e" stroke-width="3"/>
<rect x="286" y="501" width="10" height="88" fill="url(#rbow)"/>
<text transform="translate(281,545) rotate(-90)" font-size="4.5" text-anchor="middle">Intensity</text>
<g font-size="3" fill="#333"><text x="297" y="503">600.0</text><text x="297" y="530">450.0</text><text x="297" y="560">225.0</text><text x="297" y="589">0.000</text></g>
<g font-size="8" text-anchor="middle"><text x="247" y="623">4.5</text><text x="269" y="623">4.0</text><text x="290" y="623">3.5</text><text x="312" y="623">3.0</text></g>
<text x="280" y="637" font-size="8" text-anchor="middle">Voltage (V)</text>

<!-- ===== k ===== -->
<rect x="320" y="471" width="136" height="140" fill="#0a1ae0"/>
<svg x="320" y="471" width="136" height="140" viewBox="320 471 136 140" overflow="hidden">
<g filter="url(#blur2)" fill="#2a80f0" opacity="0.6"><ellipse cx="350" cy="560" rx="12" ry="6"/><ellipse cx="420" cy="540" rx="10" ry="5"/><ellipse cx="360" cy="500" rx="6" ry="6"/></g>
<g filter="url(#blur)">
 <ellipse cx="378" cy="480" rx="12" ry="8" fill="#28c8f0"/><ellipse cx="378" cy="479" rx="8" ry="5" fill="#40e040"/>
 <ellipse cx="382" cy="500" rx="13" ry="7" fill="#28c8f0"/><ellipse cx="382" cy="500" rx="8" ry="4.5" fill="#40e040"/><ellipse cx="382" cy="500" rx="4" ry="2.5" fill="#f0f020"/><ellipse cx="382" cy="500" rx="2" ry="1.5" fill="#f01010"/>
 <circle cx="369" cy="492" r="4" fill="#28c8f0"/>
 <circle cx="443" cy="497" r="6" fill="#28c8f0"/><circle cx="443" cy="497" r="3.5" fill="#40e040"/>
 <circle cx="456" cy="503" r="5" fill="#40e040"/>
 <ellipse cx="383" cy="568" rx="12" ry="10" fill="#28c8f0"/><ellipse cx="384" cy="569" rx="8" ry="7" fill="#40e040"/><ellipse cx="386" cy="572" rx="5" ry="4" fill="#f0f020"/><ellipse cx="386" cy="573" rx="3" ry="2.5" fill="#f01010"/>
 <ellipse cx="385" cy="600" rx="12" ry="14" fill="#28c8f0"/><ellipse cx="385" cy="600" rx="9" ry="12" fill="#40e040"/><ellipse cx="386" cy="601" rx="6.5" ry="10" fill="#f0f020"/><ellipse cx="386" cy="602" rx="5" ry="9" fill="#f01010"/>
 <circle cx="405" cy="578" r="4" fill="#28c8f0"/><circle cx="440" cy="578" r="3.5" fill="#28c8f0"/>
 <circle cx="456" cy="568" r="5" fill="#40e040"/><circle cx="456" cy="568" r="3" fill="#f0a010"/>
 <circle cx="367" cy="585" r="4" fill="#40e040"/><circle cx="372" cy="600" r="3.5" fill="#28c8f0"/><circle cx="418" cy="600" r="3" fill="#28c8f0"/>
</g>
</svg>
<text x="333" y="492" font-size="22" fill="#fff">k</text>
<text x="340" y="602" font-size="20" fill="#fff">R<tspan dy="5" font-size="14">CEI</tspan></text>
<text x="423" y="602" font-size="20" fill="#fff">R<tspan dy="5" font-size="14">ct</tspan></text>
<g stroke="#000" stroke-width="0.8"><line x1="343" y1="612" x2="343" y2="615"/><line x1="357" y1="612" x2="357" y2="615"/><line x1="370" y1="612" x2="370" y2="615"/><line x1="383" y1="612" x2="383" y2="615"/><line x1="398" y1="612" x2="398" y2="615"/><line x1="412" y1="612" x2="412" y2="615"/><line x1="425" y1="612" x2="425" y2="615"/><line x1="438" y1="612" x2="438" y2="615"/><line x1="452" y1="612" x2="452" y2="615"/></g>
<g font-size="5.3"><text x="328" y="625">1.00616E-40.00101</text><text x="387" y="625">0.01009</text><text x="415" y="625">0.10108</text><text x="442" y="625">1.01236</text></g>
<text x="390" y="637" font-size="8" text-anchor="middle">τ (s)</text>

<!-- ===== l ===== -->
<rect x="463" y="471" width="136" height="140" fill="#0a1ae0"/>
<svg x="463" y="471" width="136" height="140" viewBox="463 471 136 140" overflow="hidden">
<g filter="url(#blur2)" fill="#2a90f0" opacity="0.7"><ellipse cx="478" cy="505" rx="6" ry="8"/><ellipse cx="492" cy="545" rx="6" ry="12"/><ellipse cx="522" cy="530" rx="8" ry="6"/><ellipse cx="558" cy="545" rx="8" ry="6"/><ellipse cx="582" cy="562" rx="8" ry="6"/><ellipse cx="578" cy="525" rx="8" ry="6"/><ellipse cx="500" cy="570" rx="10" ry="8"/></g>
<g filter="url(#blur)">
 <ellipse cx="507" cy="495" rx="17" ry="22" fill="#28c8f0"/><ellipse cx="507" cy="493" rx="12" ry="17" fill="#40e040"/><ellipse cx="505" cy="490" rx="5" ry="6" fill="#b0f030"/>
 <circle cx="498" cy="516" r="5" fill="#28c8f0"/>
 <circle cx="527" cy="479" r="7" fill="#40e040"/><circle cx="527" cy="479" r="4" fill="#f01010"/>
 <circle cx="533" cy="487" r="6" fill="#40e040"/><circle cx="533" cy="487" r="3.5" fill="#f01010"/>
 <circle cx="556" cy="482" r="6" fill="#40e040"/><circle cx="556" cy="482" r="3.5" fill="#f01010"/>
 <circle cx="583" cy="476" r="7" fill="#40e040"/><circle cx="583" cy="476" r="4.5" fill="#f01010"/>
 <circle cx="598" cy="484" r="9" fill="#40e040"/><circle cx="598" cy="484" r="6.5" fill="#f01010"/>
 <circle cx="577" cy="492" r="6" fill="#40e040"/><circle cx="577" cy="492" r="3.5" fill="#f01010"/>
 <circle cx="567" cy="503" r="6" fill="#40e040"/><circle cx="567" cy="503" r="3.5" fill="#f01010"/>
 <circle cx="556" cy="497" r="5" fill="#40e040"/><circle cx="556" cy="497" r="2.5" fill="#f0f020"/>
 <circle cx="595" cy="508" r="5" fill="#40e040"/>
 <ellipse cx="520" cy="588" rx="22" ry="24" fill="#28c8f0"/><ellipse cx="522" cy="588" rx="16" ry="20" fill="#40e040"/>
 <ellipse cx="528" cy="590" rx="10" ry="22" fill="#f0f020"/><ellipse cx="529" cy="592" rx="7" ry="20" fill="#f01010"/>
 <circle cx="545" cy="594" r="4" fill="#40e040"/>
 <circle cx="567" cy="597" r="4" fill="#40e040"/><circle cx="567" cy="597" r="2.5" fill="#f0f020"/>
 <circle cx="568" cy="606" r="4" fill="#f0a010"/>
 <circle cx="593" cy="586" r="5" fill="#40e040"/><circle cx="593" cy="586" r="2.5" fill="#f0f020"/>
 <circle cx="594" cy="602" r="4" fill="#40e040"/>
</g>
</svg>
<text x="479" y="492" font-size="22" fill="#fff">l</text>
<text x="480" y="602" font-size="20" fill="#fff">R<tspan dy="5" font-size="14">CEI</tspan></text>
<text x="566" y="602" font-size="20" fill="#fff">R<tspan dy="5" font-size="14">ct</tspan></text>
<g stroke="#000" stroke-width="0.8"><line x1="486" y1="612" x2="486" y2="615"/><line x1="500" y1="612" x2="500" y2="615"/><line x1="513" y1="612" x2="513" y2="615"/><line x1="526" y1="612" x2="526" y2="615"/><line x1="540" y1="612" x2="540" y2="615"/><line x1="554" y1="612" x2="554" y2="615"/><line x1="567" y1="612" x2="567" y2="615"/><line x1="580" y1="612" x2="580" y2="615"/><line x1="594" y1="612" x2="594" y2="615"/></g>
<g font-size="5.3"><text x="470" y="625">1.00616E-40.00101</text><text x="527" y="625">0.01009</text><text x="555" y="625">0.10108</text><text x="580" y="625">1.01236</text></g>
<text x="530" y="637" font-size="8" text-anchor="middle">τ (s)</text>
</svg>
</body></html>
